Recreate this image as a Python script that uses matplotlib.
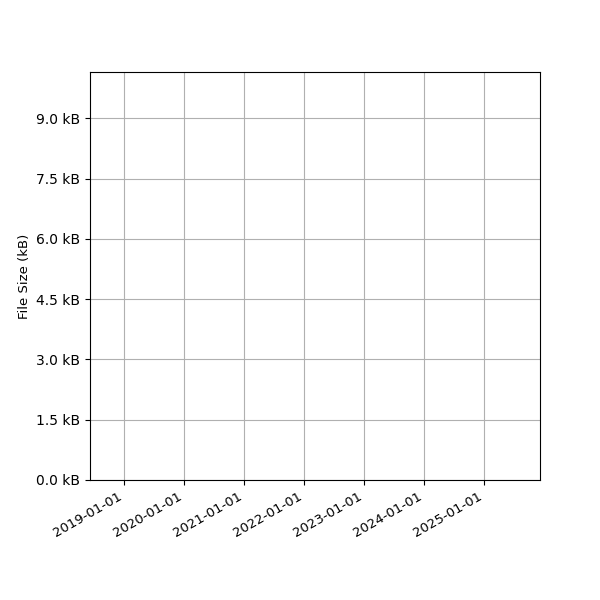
import datetime as dt
import matplotlib
matplotlib.use('Agg')
import matplotlib.pyplot as plt
import matplotlib.dates as mdates
from matplotlib.ticker import FuncFormatter, MultipleLocator

# no data points in the reference, only the axis range
dates = []
sizes = []
x_range = [dt.date(2018, 6, 8), dt.date(2025, 12, 8)]
y_range = [0, 10150]

fig, ax = plt.subplots(figsize=(6, 6), dpi=100)
ax.plot(dates, sizes)
ax.set_xlim(x_range)
ax.set_ylim(y_range)

ax.xaxis.set_major_locator(mdates.YearLocator())
ax.xaxis.set_major_formatter(mdates.DateFormatter('%Y-%m-%d'))
ax.yaxis.set_major_locator(MultipleLocator(1500))
ax.yaxis.set_major_formatter(FuncFormatter(lambda v, p: f'{v / 1000:.1f} kB'))
ax.tick_params(axis='x', labelsize=9.5)

ax.set_ylabel('File Size (kB)', fontsize=9.5)
ax.grid(True)
fig.autofmt_xdate()
fig.subplots_adjust(left=0.15, right=0.9, top=0.88, bottom=0.2)

fig.savefig('out.png')
